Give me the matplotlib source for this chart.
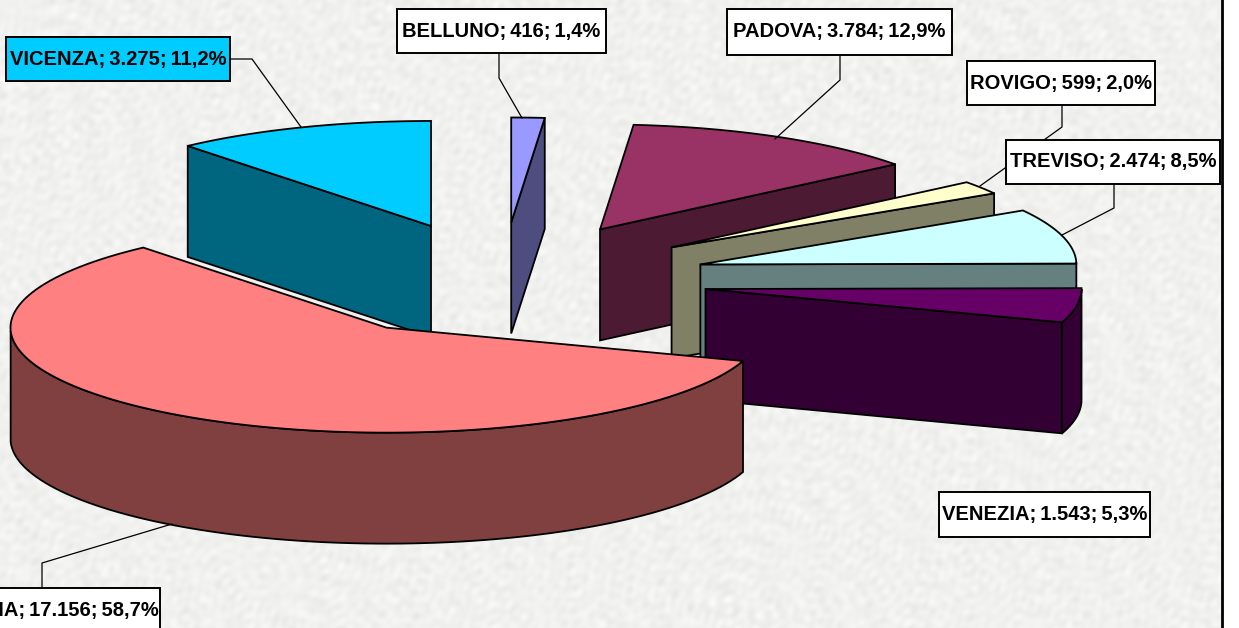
import matplotlib

matplotlib.use("Agg")
import matplotlib.pyplot as plt
import numpy as np
from matplotlib.patches import Polygon, Rectangle

# clockwise from 12 o'clock, as in the sheet
names = ["BELLUNO", "PADOVA", "ROVIGO", "TREVISO", "VENEZIA", "VERONA", "VICENZA"]
values = [416, 3784, 599, 2474, 1543, 17156, 3275]
top_colors = ["#9999FF", "#993366", "#FFFFCC", "#CCFFFF", "#660066", "#FF8080", "#00CCFF"]
side_colors = ["#4D4D80", "#4D1A33", "#808066", "#668080", "#330033", "#804040", "#006680"]
draw_order = ["VICENZA", "BELLUNO", "PADOVA", "ROVIGO", "TREVISO", "VENEZIA", "VERONA"]

# label box (x0, y0, x1, y1) in pixels and its leader line
boxes = {
    "VICENZA": (6, 37, 230, 81),
    "BELLUNO": (397, 9, 606, 53),
    "PADOVA": (727, 9, 952, 55),
    "ROVIGO": (967, 61, 1155, 105),
    "TREVISO": (1006, 140, 1220, 184),
    "VENEZIA": (939, 492, 1150, 537),
    "VERONA": (-70, 588, 160, 633),
}
leaders = {
    "VICENZA": [(230, 59), (252, 59), (301, 127)],
    "BELLUNO": [(499, 53), (499, 78), (522, 118)],
    "PADOVA": [(840, 55), (840, 80), (775, 139)],
    "ROVIGO": [(1062, 105), (1062, 127), (980, 186)],
    "TREVISO": [(1114, 184), (1114, 208), (1062, 235)],
    "VERONA": [(42, 588), (42, 563), (172, 524)],
}

CX, CY = 502, 280
RX, RY = 376, 105
EXPLODE = 0.548
DEPTH = 111


def ell(theta, scale=1.0):
    # theta in radians clockwise from north, y pointing down like the image
    return np.sin(theta) * RX * scale, -np.cos(theta) * RY * scale


def background():
    # mottled paper: many sines in unrelated directions, no visible weave
    yy, xx = np.mgrid[0:628, 0:1239]
    tex = np.zeros(xx.shape)
    for k in range(60):
        ang = k * 2.399963
        freq = 0.12 + 0.6 * ((k * 0.618034) % 1.0)
        tex += np.sin(freq * (xx * np.cos(ang) + yy * np.sin(ang)) + k * 1.7)
    tex = tex / tex.std()
    gray = 241 + tex * 2.5
    return np.dstack([gray, gray, gray - 1.5]).clip(0, 255).astype("uint8")


def draw_slice(ax, a0, a1, top, side):
    ox, oy = ell((a0 + a1) / 2, EXPLODE)
    apex = np.array([CX + ox, CY + oy])
    th = np.linspace(a0, a1, 120)
    ex, ey = ell(th)
    arc = np.column_stack([apex[0] + ex, apex[1] + ey])
    down = np.array([0, DEPTH])

    # a wall shows when the clockwise outline runs right to left
    if arc[0, 0] < apex[0] - 0.5:
        ax.add_patch(Polygon([apex, arc[0], arc[0] + down, apex + down], fc=side, ec="black", lw=1.3))
    if arc[-1, 0] > apex[0] + 0.5:
        ax.add_patch(Polygon([arc[-1], apex, apex + down, arc[-1] + down], fc=side, ec="black", lw=1.3))
    front = (th > np.pi / 2) & (th < 3 * np.pi / 2)
    if front.any():
        run = arc[front]
        ax.add_patch(Polygon(np.vstack([run, (run + down)[::-1]]), fc=side, ec="black", lw=1.3))
    ax.add_patch(Polygon(np.vstack([apex, arc]), fc=top, ec="black", lw=1.3))


def it_number(v):
    return f"{v:,}".replace(",", ".")


def main():
    plt.rcParams["font.family"] = ["Liberation Sans", "DejaVu Sans"]
    fig = plt.figure(figsize=(12.39, 6.28), dpi=100, facecolor="white")
    ax = fig.add_axes([0, 0, 1, 1])
    ax.axis("off")

    ax.imshow(background()[:, :1222], extent=(0, 1222, 628, 0), aspect="auto", zorder=0)
    ax.set_xlim(0, 1239)
    ax.set_ylim(628, 0)
    ax.plot([1222, 1222], [0, 628], color="black", lw=2, zorder=1)

    total = sum(values)
    edges = np.cumsum([0] + values) / total * 2 * np.pi
    for name in draw_order:
        i = names.index(name)
        draw_slice(ax, edges[i], edges[i + 1], top_colors[i], side_colors[i])

    for name, pts in leaders.items():
        xs, ys = zip(*pts)
        ax.plot(xs, ys, color="black", lw=0.9, zorder=4)

    for i, name in enumerate(names):
        x0, y0, x1, y1 = boxes[name]
        fc = "#00CCFF" if name == "VICENZA" else "white"
        ax.add_patch(Rectangle((x0, y0), x1 - x0, y1 - y0, fc=fc, ec="black", lw=1.4, zorder=5))
        pct = f"{values[i] / total * 100:.1f}".replace(".", ",")
        # thin spaces: the original labels are set very tight
        ax.text((x0 + x1) / 2, (y0 + y1) / 2, f"{name};\u2009{it_number(values[i])};\u2009{pct}%",
                ha="center", va="center", fontsize=14.5, fontweight="bold", color="black", zorder=6)

    fig.savefig("out.png", dpi=100)
    plt.close(fig)


if __name__ == "__main__":
    main()
